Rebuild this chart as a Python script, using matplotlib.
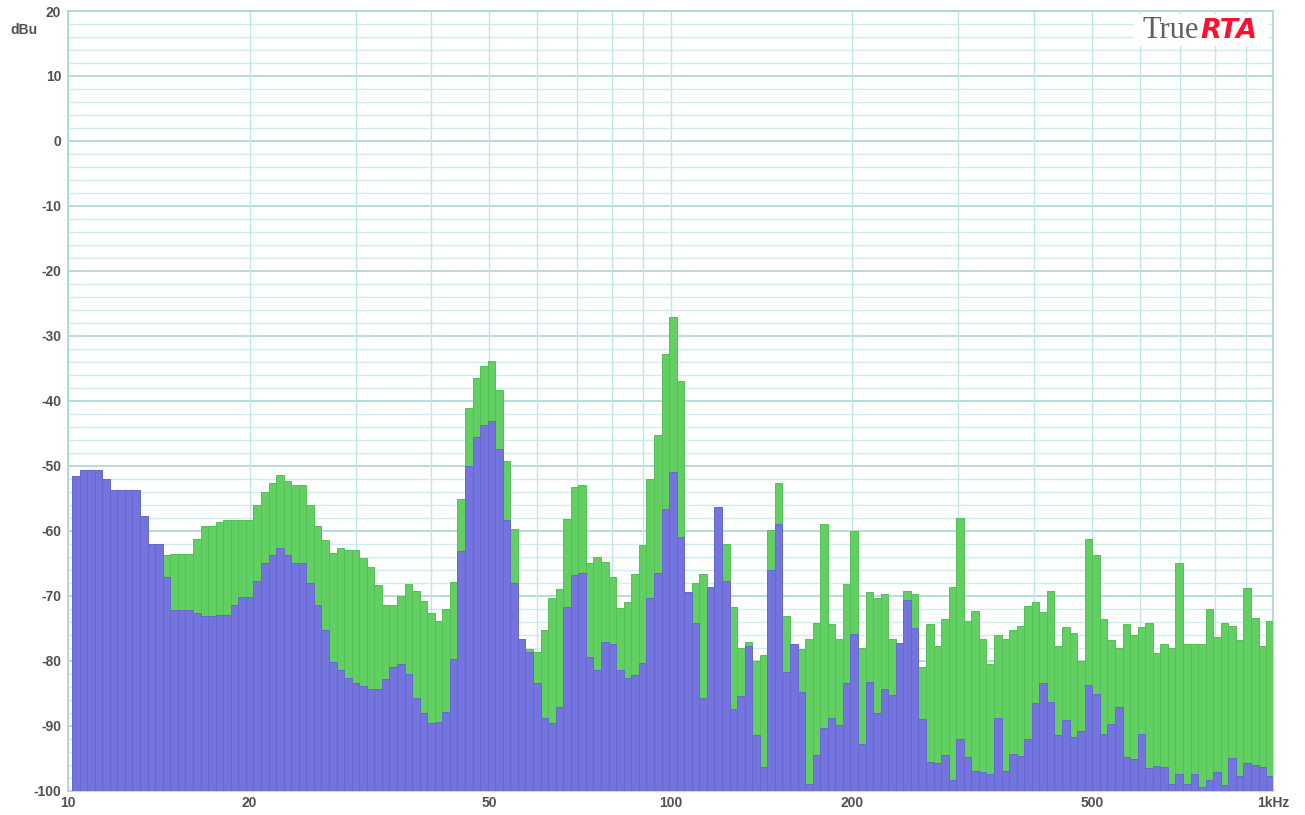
"""TrueRTA style 1/24-octave spectrum: peak hold (green) behind live level (blue)."""

import matplotlib
matplotlib.use("Agg")
import matplotlib.pyplot as plt
from matplotlib.patches import Rectangle
from matplotlib.ticker import FixedLocator, NullFormatter

# band index k -> centre frequency 10 * 2^(k/24) Hz, k = 1..159
BAND_START = 1

PEAK_DBU = [
    -51.6, -50.7, -50.7, -50.7, -52.0, -53.7, -53.7, -53.7, -53.7, -57.8,
    -62.0, -62.0, -63.8, -63.6, -63.6, -63.6, -61.3, -59.2, -59.2, -58.7,
    -58.3, -58.3, -58.3, -58.3, -56.0, -54.0, -52.6, -51.4, -52.3, -53.0,
    -53.0, -56.0, -59.2, -61.5, -63.4, -62.7, -62.9, -62.9, -64.2, -65.6,
    -68.4, -71.4, -71.4, -70.0, -68.2, -69.3, -70.8, -72.7, -73.9, -72.1,
    -67.9, -55.1, -41.1, -36.5, -34.7, -33.9, -38.3, -49.3, -59.7, -76.7,
    -78.2, -78.7, -75.3, -70.4, -69.0, -58.2, -53.2, -53.0, -64.9, -64.1,
    -64.8, -67.1, -71.9, -71.0, -66.6, -62.2, -52.1, -45.2, -32.8, -27.1,
    -37.0, -69.4, -68.1, -66.6, -68.6, -56.3, -62.0, -71.8, -78.0, -77.1,
    -80.0, -79.2, -59.9, -52.6, -73.2, -77.5, -78.2, -76.7, -74.2, -59.0,
    -74.4, -76.7, -68.2, -60.1, -78.0, -69.5, -70.4, -69.8, -76.7, -77.3,
    -69.3, -69.8, -81.0, -74.3, -77.7, -73.6, -68.7, -58.1, -73.9, -72.3,
    -76.7, -80.5, -76.0, -76.6, -75.3, -74.6, -71.6, -70.9, -72.5, -69.3,
    -77.7, -74.8, -75.7, -80.1, -61.3, -63.8, -73.6, -76.9, -78.0, -74.3,
    -76.0, -74.8, -74.2, -78.9, -77.5, -78.0, -64.9, -77.4, -77.4, -77.4,
    -72.1, -76.4, -74.2, -74.6, -76.9, -68.8, -73.4, -77.7, -73.9,
]

LEVEL_DBU = [
    -51.6, -50.7, -50.7, -50.7, -52.0, -53.7, -53.7, -53.7, -53.7, -57.8,
    -62.0, -62.0, -67.2, -72.2, -72.2, -72.2, -72.7, -73.1, -73.1, -73.0,
    -73.0, -71.5, -70.2, -70.2, -67.7, -65.0, -63.8, -62.6, -63.8, -65.0,
    -65.0, -68.1, -71.5, -75.3, -80.2, -81.4, -82.6, -83.5, -83.9, -84.4,
    -84.4, -82.8, -81.0, -80.5, -82.0, -85.8, -88.1, -89.6, -89.5, -87.9,
    -79.8, -63.1, -50.0, -45.6, -43.8, -43.1, -47.4, -58.3, -68.1, -76.7,
    -78.7, -83.5, -88.8, -89.6, -87.2, -71.8, -66.8, -66.5, -79.4, -81.4,
    -77.1, -77.4, -81.4, -82.6, -82.2, -80.3, -70.4, -66.5, -56.7, -50.9,
    -61.0, -69.4, -74.2, -85.8, -68.6, -56.3, -67.7, -87.4, -85.5, -77.8,
    -91.5, -96.3, -66.0, -58.9, -81.8, -77.5, -84.9, -99.0, -94.5, -90.4,
    -88.8, -89.9, -83.5, -75.9, -92.9, -83.3, -88.1, -84.4, -85.3, -77.3,
    -70.6, -75.0, -89.0, -95.6, -95.8, -94.5, -98.4, -92.1, -94.8, -97.0,
    -97.2, -97.4, -88.8, -97.0, -94.3, -94.7, -92.0, -86.5, -83.5, -86.3,
    -91.5, -89.2, -91.7, -90.8, -83.7, -85.1, -91.3, -89.7, -87.2, -94.8,
    -95.2, -91.3, -96.6, -96.2, -96.4, -99.0, -97.5, -99.0, -97.4, -99.5,
    -98.4, -97.1, -99.1, -95.0, -97.8, -95.7, -96.1, -96.4, -97.8,
]

X_GRID = [10, 20, 30, 40, 50, 60, 70, 80, 90,
          100, 200, 300, 400, 500, 600, 700, 800, 900, 1000]
X_TICKS = [10, 20, 50, 100, 200, 500, 1000]
X_LABELS = ["10", "20", "50", "100", "200", "500", "1kHz"]
Y_TICKS = list(range(-100, 21, 10))

FLOOR = -100
BLUE, BLUE_EDGE = "#7474de", "#6868cf"
GREEN, GREEN_EDGE = "#62cf62", "#56bf56"
TICK_COLOR = "#505050"
W, H = 1305, 815


def band_edges(n):
    lo = [10 * 2 ** ((BAND_START + i - 0.5) / 24) for i in range(n)]
    hi = [10 * 2 ** ((BAND_START + i + 0.5) / 24) for i in range(n)]
    return lo, [h - l for l, h in zip(lo, hi)]


def main():
    plt.rcParams["font.family"] = ["Liberation Sans", "DejaVu Sans"]
    plt.rcParams["axes.unicode_minus"] = False
    fig = plt.figure(figsize=(W / 100, H / 100), dpi=100)
    ax = fig.add_axes([0.0523, 0.0300, 0.9234, 0.9565])

    lo, wid = band_edges(len(PEAK_DBU))
    ax.bar(lo, [v - FLOOR for v in PEAK_DBU], width=wid, bottom=FLOOR,
           align="edge", color=GREEN, edgecolor=GREEN_EDGE, linewidth=0.7, zorder=3)
    ax.bar(lo, [v - FLOOR for v in LEVEL_DBU], width=wid, bottom=FLOOR,
           align="edge", color=BLUE, edgecolor=BLUE_EDGE, linewidth=0.7, zorder=4)

    ax.set_xscale("log")
    ax.set_xlim(10, 1000)
    ax.set_ylim(FLOOR, 20)

    ax.xaxis.set_major_locator(FixedLocator(X_TICKS))
    ax.set_xticklabels(X_LABELS)
    ax.xaxis.set_minor_locator(FixedLocator(X_GRID))
    ax.xaxis.set_minor_formatter(NullFormatter())
    ax.set_yticks(Y_TICKS)
    ax.yaxis.set_minor_locator(FixedLocator(list(range(-100, 21, 2))))

    for v in range(-100, 21, 2):
        major = v % 10 == 0
        ax.axhline(v, color="#a9d6d6" if major else "#cdeeee",
                   lw=1.2 if major else 1.0, zorder=1)
    for f in X_GRID:
        ax.axvline(f, color="#bfe6e6", lw=1.0, zorder=1)

    ax.tick_params(which="both", length=0)
    ax.tick_params(axis="y", pad=5, labelsize=10, labelcolor=TICK_COLOR)
    ax.tick_params(axis="x", pad=4, labelsize=10, labelcolor=TICK_COLOR)
    for lab in ax.get_xticklabels() + ax.get_yticklabels():
        lab.set_fontweight("bold")
    for sp in ax.spines.values():
        sp.set_color("#a9d6d6")
        sp.set_linewidth(1.2)

    fig.text(0.008, 1 - 30 / H, "dBu", fontsize=10, fontweight="bold",
             color=TICK_COLOR, va="center", ha="left")

    # logo: white patch over the grid, then "True" + "RTA" butted together
    fig.patches.append(Rectangle((1134 / W, 1 - 46 / H), 134 / W, 32 / H,
                                 transform=fig.transFigure, facecolor="white",
                                 edgecolor="none", zorder=1))
    base = 1 - 38 / H
    fig.text(1199 / W, base, "True", family="Liberation Serif",
             fontsize=22, color="#606060", va="baseline", ha="right", zorder=10)
    fig.text(1200 / W, base, "RTA", family="DejaVu Sans", fontsize=19.5,
             fontweight="bold", fontstyle="italic", color="#ff1030",
             va="baseline", ha="left", zorder=10)

    fig.savefig("out.png", dpi=100, facecolor="white")
    plt.close(fig)


if __name__ == "__main__":
    main()
